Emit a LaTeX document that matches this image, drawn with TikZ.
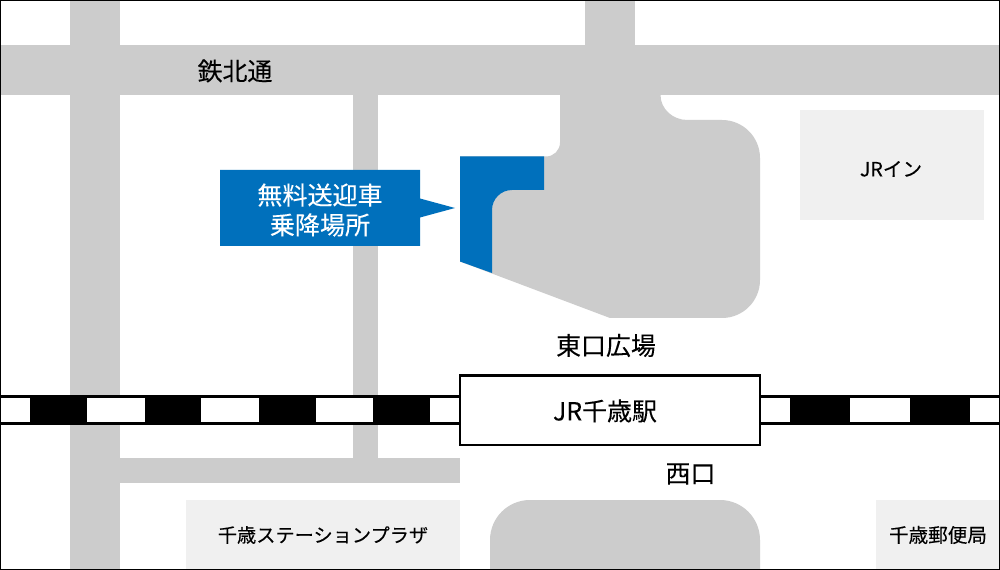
\documentclass[tikz,border=0pt]{standalone}
\usepackage{fontspec}
\setmainfont{Noto Sans CJK JP}[FakeBold=0.12]
\definecolor{road}{HTML}{CCCCCC}
\definecolor{bldg}{HTML}{F0F0F0}
\definecolor{jrblue}{HTML}{0070BC}
\tikzset{
  roadfill/.style={fill=road,draw=none},
  bldgfill/.style={fill=bldg,draw=none},
  railblock/.style={fill=black,draw=none},
  labelL/.style={inner sep=0pt,font=\fontsize{18.7pt}{22pt}\selectfont,text=black},
  labelS/.style={inner sep=0pt,font=\fontsize{14.7pt}{18pt}\selectfont,text=black},
  labelP/.style={inner sep=0pt,font=\fontsize{14.4pt}{18pt}\selectfont,text=black},
  labelW/.style={inner sep=0pt,align=center,font=\fontsize{18.8pt}{22.4pt}\selectfont,text=white},
}
\begin{document}
\begin{tikzpicture}[x=0.75pt,y=-0.75pt]
\useasboundingbox (0,0) rectangle (1000,570);
\fill[white] (0,0) rectangle (1000,570);
% roads
\fill[roadfill] (70,0) rectangle (120,570);
\fill[roadfill] (0,45) rectangle (1000,95);
\fill[roadfill] (585,0) rectangle (635,45);
\fill[roadfill] (353,95) rectangle (378,458);
\fill[roadfill] (120,458) rectangle (460,483);
% east plaza
\fill[roadfill] (560,95) -- (660.5,95) arc[start angle=180,end angle=270,x radius=27,y radius=-25] -- (722,120)
  arc[start angle=90,end angle=0,radius=38,y radius=-38] -- (760,280)
  arc[start angle=0,end angle=-90,x radius=38,y radius=-38] -- (610,318) -- (460,261.5) -- (460,156.5) -- (546,156.5)
  arc[start angle=-90,end angle=0,x radius=14,y radius=-14] -- cycle;
% pick-up area
\fill[jrblue] (460,156.5) -- (544,156.5) -- (544,190) -- (512,190)
  arc[start angle=90,end angle=180,x radius=20,y radius=-20] -- (492,273) -- (460,261.5) -- cycle;
% west plaza
\fill[roadfill] (490,570) -- (490,540) arc[start angle=180,end angle=90,x radius=40,y radius=-40] -- (720,500)
  arc[start angle=90,end angle=0,x radius=40,y radius=-40] -- (760,570) -- cycle;
% buildings
\fill[bldgfill] (800,110) rectangle (984,220);
\fill[bldgfill] (186,500) rectangle (460,570);
\fill[bldgfill] (876,500) rectangle (1000,570);
% railway
\fill[black] (0,395) rectangle (1000,398);
\fill[black] (0,422) rectangle (1000,425);
\fill[white] (0,398) rectangle (1000,422);
\foreach \a/\b in {30/87,145/201,259/316,373/430,790/850,910/970}
  \fill[railblock] (\a,395) rectangle (\b,425);
% station
\node[draw=black,fill=white,line width=1.7pt,minimum width=224.8pt,minimum height=52.2pt,inner sep=0pt] (station) at (610.1,410.2) {};
\node[labelL] (stationlabel) at (605,411) {JR千歳駅};
% callout
\fill[jrblue] (220,170) -- (420,170) -- (420,198.5) -- (455,208) -- (420,217.5) -- (420,246) -- (220,246) -- cycle;
\node[labelW] (callout) at (320,210) {無料送迎車\\乗降場所};
% labels
\node[labelL] (road) at (235,71) {鉄北通};
\node[labelL] (east) at (606,345.5) {東口広場};
\node[labelL] (west) at (690.5,474) {西口};
\node[labelS] (inn) at (891,169) {JRイン};
\node[labelP] (plaza) at (323,535) {千歳ステーションプラザ};
\node[labelS] (post) at (938,535) {千歳郵便局};
% border
\draw[black,line width=0.9pt] (0.6,0.6) rectangle (999.4,569.4);
\end{tikzpicture}
\end{document}
